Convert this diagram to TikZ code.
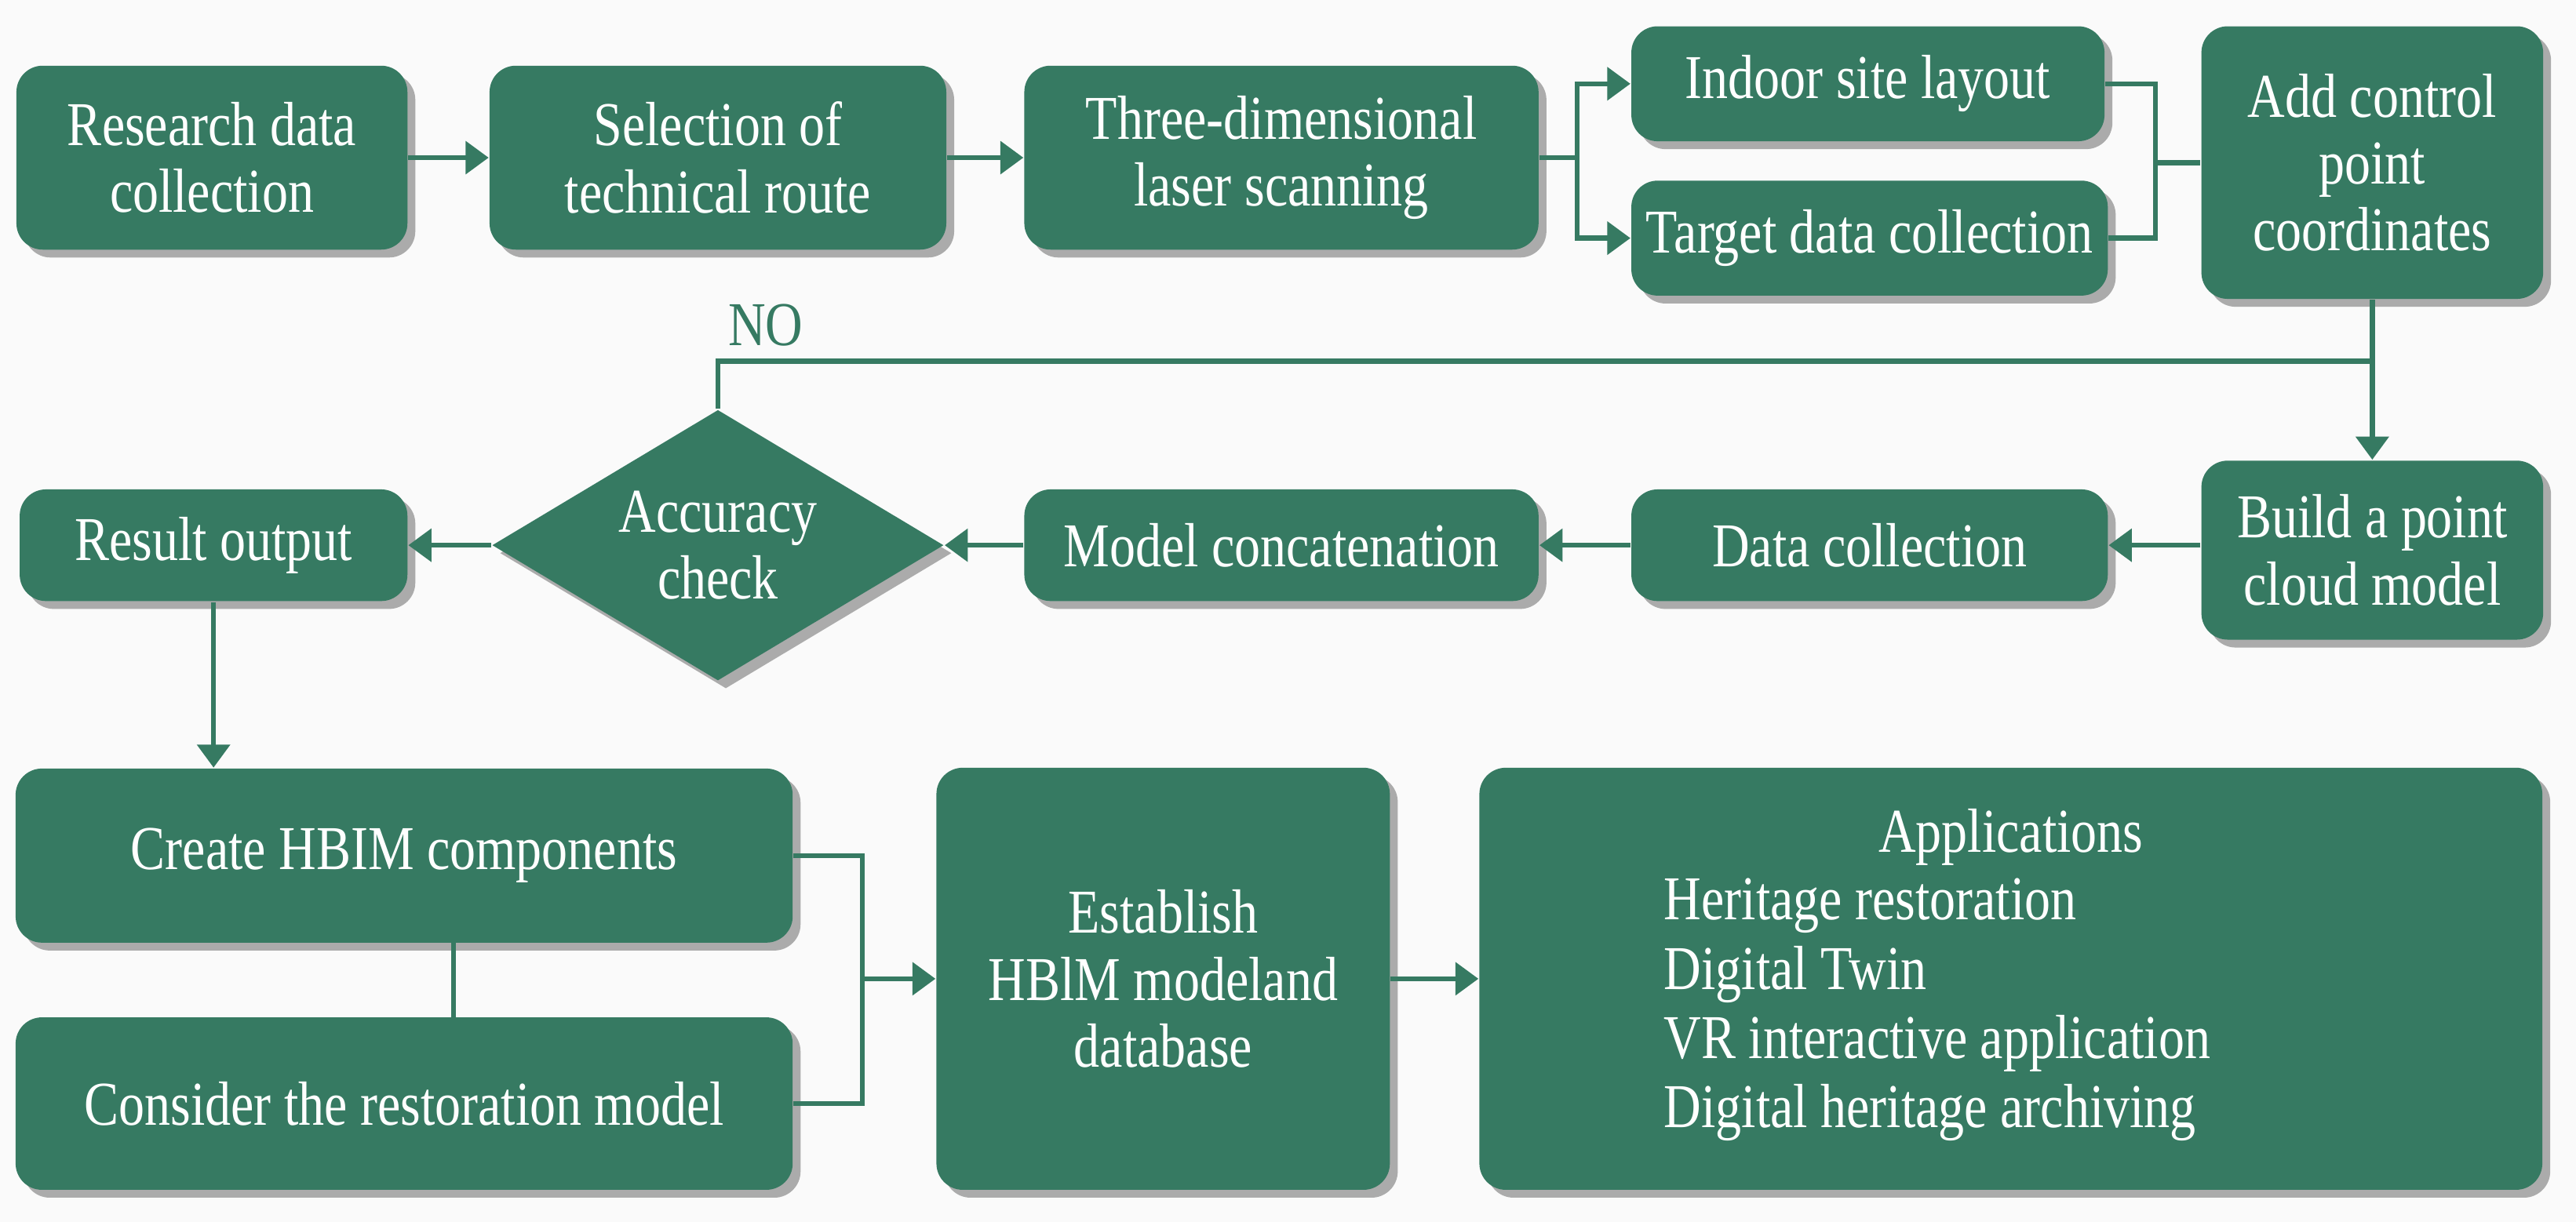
\documentclass[tikz,border=0pt]{standalone}
\usepackage{fontspec}
\setmainfont{Liberation Serif}[FakeStretch=0.83]
\usetikzlibrary{shapes.geometric,arrows.meta,shadows}
\definecolor{gr}{HTML}{367A62}
\begin{document}
\begin{tikzpicture}[x=0.0125cm,y=-0.0125cm,
  box/.style={draw=none,fill=gr,rounded corners=0.2cm,text=white,align=center,
     font=\fontsize{13.5}{14.5}\selectfont,inner sep=0pt,
     drop shadow={shadow xshift=0.06cm,shadow yshift=-0.06cm,opacity=0.45,fill=black!70}},
  ln/.style={draw=gr,line width=1.1pt},
  ar/.style={ln,-{Triangle[length=5pt,width=7pt]}}]
\fill[white!98!black] (0,0) rectangle (1568,744);
\useasboundingbox (0,0) rectangle (1568,744);
\def\B#1#2#3#4#5#6{\node[box,minimum width=#4*0.0125cm,minimum height=#5*0.0125cm] (#1) at (#2,#3) {#6};}
\B{a}{129}{96}{238}{112}{Research data\\collection}
\B{b}{437}{96}{278}{112}{Selection of\\technical route}
\B{c}{780}{96}{313}{112}{Three-dimensional\\laser scanning}
\B{d}{1137}{51}{288}{70}{Indoor site layout}
\B{e}{1138}{145}{290}{70}{Target data collection}
\B{f}{1444}{99}{208}{166}{Add control\\point\\coordinates}
\B{g}{1444}{335}{208}{109}{Build a point\\cloud model}
\B{h}{1138}{332}{290}{68}{Data collection}
\B{i}{780}{332}{313}{68}{Model concatenation}
\node[box,diamond,rounded corners=0pt,aspect=1.67,minimum width=275*0.0125cm,minimum height=165*0.0125cm] (k) at (437,332) {Accuracy\\check};
\B{l}{130}{332}{236}{68}{Result output}
\B{m}{246}{521}{473}{106}{Create HBIM components}
\B{n}{246}{672}{473}{105}{Consider the restoration model}
\B{o}{708}{596}{276}{257}{Establish\\HBlM modeland\\database}
\B{p}{1224}{596}{647}{257}{}
\node[text=white,font=\fontsize{13.5}{14.5}\selectfont] (pt) at (1224,510) {Applications};
\node[text=white,font=\fontsize{13.5}{14.5}\selectfont,anchor=west,align=left] (pl) at (1003,615)
  {Heritage restoration\\[0.5pt]Digital Twin\\[0.5pt]VR interactive application\\[0.5pt]Digital heritage archiving};
% connectors
\draw[ar] (a) -- (b);
\draw[ar] (b) -- (c);
\coordinate (c1) at (960,96);
\draw[ln] (c.east) -- (c1);
\draw[ar] (c1) |- (d.west);
\draw[ar] (c1) |- (e.west);
\coordinate (f1) at (1312,99);
\draw[ln] (d.east) -| (f1);
\draw[ln] (e.east) -| (f1);
\draw[ln] (f1) -- (f.west);
\draw[ar] (f.south) -- (g.north);
\coordinate (no1) at (1444,220);
\draw[ln] (no1) -| (k.north);
\node[text=gr,font=\fontsize{13.5}{14.5}\selectfont] (nolab) at (466,198) {NO};
\draw[ar] (h.east -| g.west) -- (h.east);
\draw[ar] (h.west) -- (i.east);
\draw[ar] (i.west) -- (k.east);
\draw[ar] (k.west) -- (l.east);
\draw[ar] (l.south) -- (l.south |- m.north);
\draw[ln] (276,574) -- (276,620);
\coordinate (m1) at (525,596);
\draw[ln] (m.east) -| (m1);
\draw[ln] (n.east) -| (m1);
\draw[ar] (m1) -- (o.west);
\draw[ar] (o.east) -- (p.west);
\end{tikzpicture}
\end{document}
